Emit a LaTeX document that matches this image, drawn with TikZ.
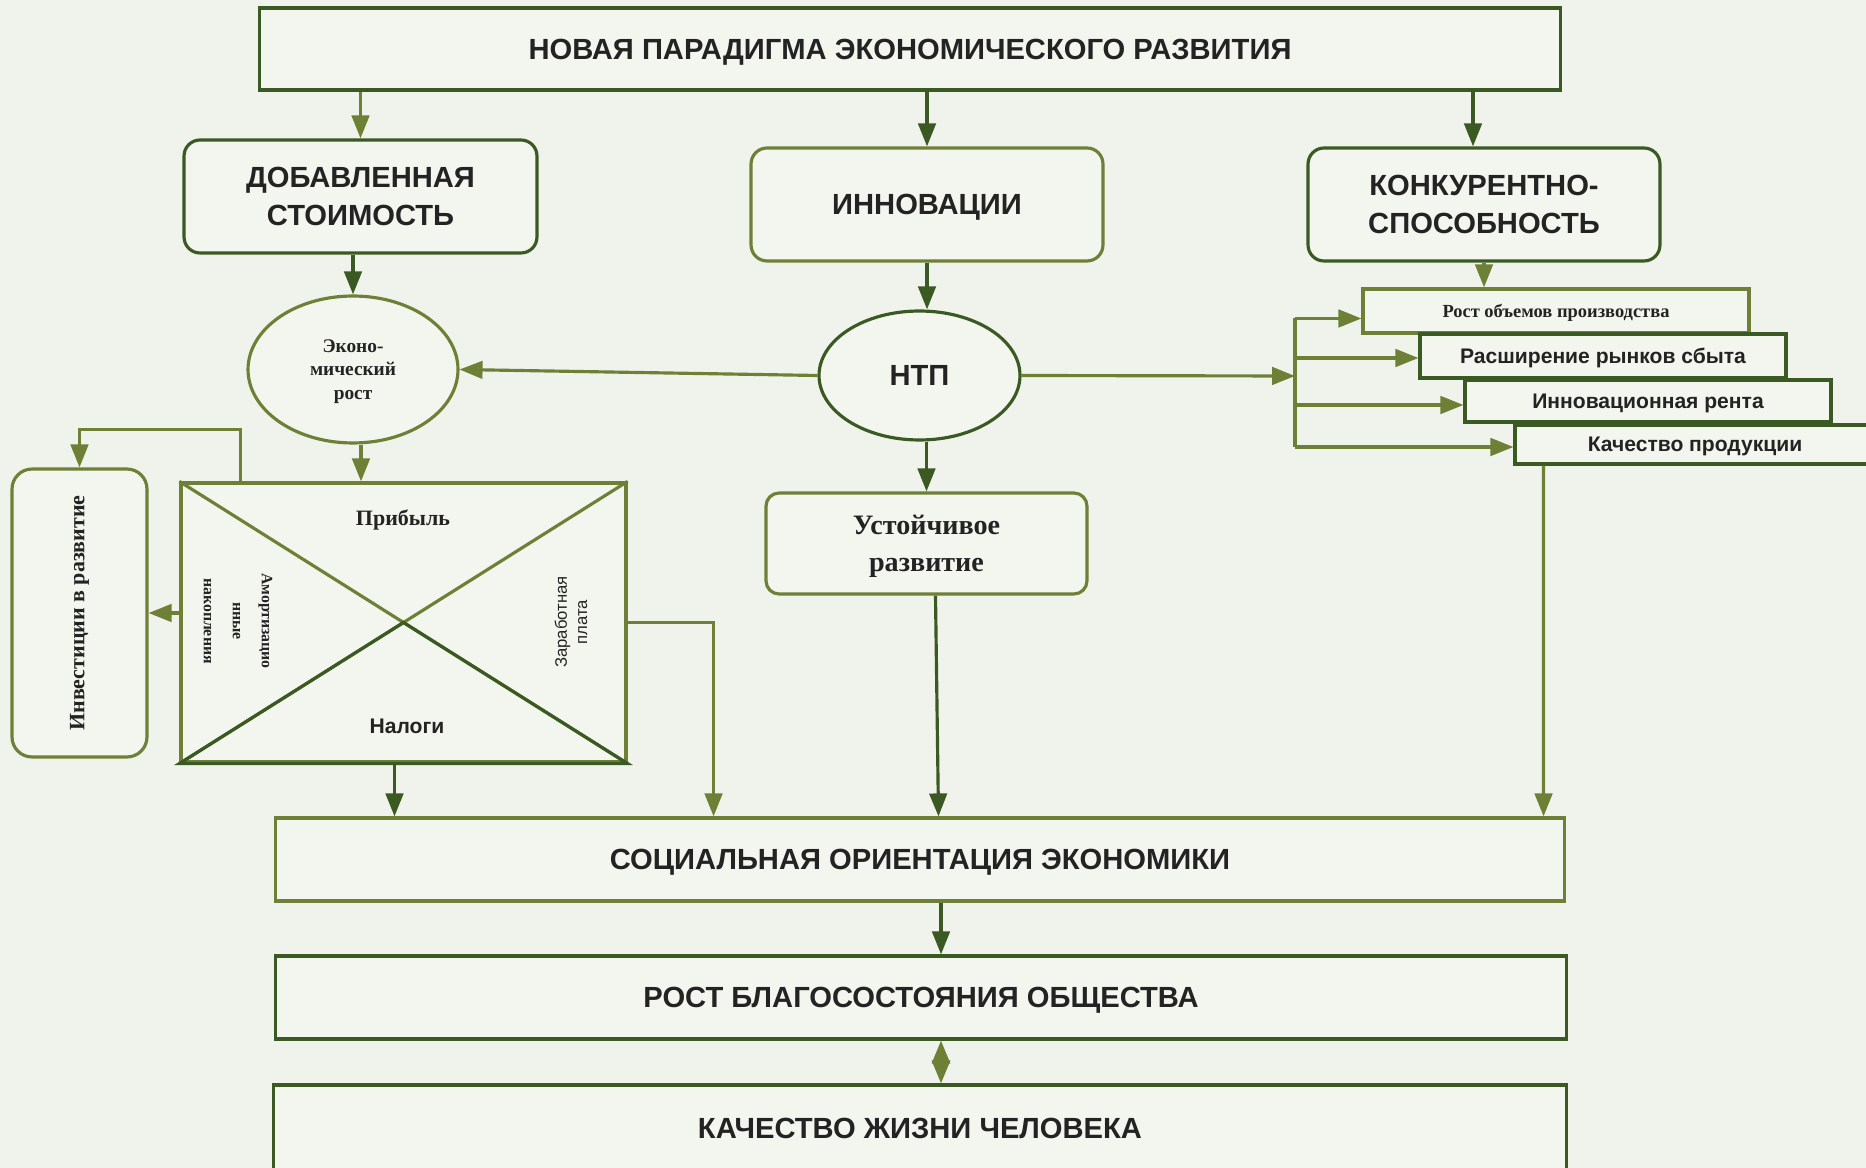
\documentclass[tikz,border=0pt]{standalone}
\usepackage{fontspec}
\setmainfont{Liberation Serif}
\setsansfont{Liberation Sans}
\usetikzlibrary{arrows.meta, positioning, calc, shapes.geometric}
\definecolor{dkgreen}{RGB}{59,90,35}
\definecolor{olgreen}{RGB}{110,128,54}
\definecolor{paper}{RGB}{240,243,235}
\definecolor{boxfill}{RGB}{243,245,239}
\definecolor{ink}{RGB}{35,35,35}

\begin{document}
\begin{tikzpicture}[x=0.02cm,y=-0.02cm,
  B/.style={draw,line width=1.8pt,fill=boxfill,text=ink,
            align=center,inner sep=0pt,text depth=0pt,
            font=\sffamily\bfseries\fontsize{16.6}{21.5}\selectfont},
  R/.style={B,rounded corners=0.32cm},
  E/.style={B,ellipse},
  F/.style={B,font=\sffamily\bfseries\fontsize{12}{14}\selectfont},
  T/.style={text=ink,inner sep=0pt,align=center},
  dk/.style={draw=dkgreen},
  ol/.style={draw=olgreen},
  ar/.style={-{Triangle[length=0.46cm,width=0.35cm]},line width=1.8pt},
  dar/.style={{Triangle[length=0.46cm,width=0.36cm]}-{Triangle[length=0.46cm,width=0.36cm]},
              line width=1.8pt}
]

%% units: 1 = one pixel of the 1866 x 1168 frame, y grows downwards
\useasboundingbox (0,0) rectangle (1866,1168);
\clip (0,0) rectangle (1866,1168);
\fill[paper] (0,0) rectangle (1866,1168);

% head
\node[B,dk,minimum width=26.04cm,minimum height=1.64cm] (NP) at (910,49)
      {НОВАЯ ПАРАДИГМА ЭКОНОМИЧЕСКОГО РАЗВИТИЯ};

% three pillars
\node[R,dk,minimum width=7.06cm,minimum height=2.26cm] (DS) at (360.5,196.5)
      {ДОБАВЛЕННАЯ\\СТОИМОСТЬ};
\node[R,ol,minimum width=7.04cm,minimum height=2.26cm] (INN) at (927,204.5)
      {ИННОВАЦИИ};
\node[R,dk,minimum width=7.04cm,minimum height=2.26cm] (KS) at (1484,204.5)
      {КОНКУРЕНТНО-\\СПОСОБНОСТЬ};

% ellipses
\node[E,ol,minimum width=4.2cm,minimum height=2.94cm,
      font=\bfseries\fontsize{11}{13.6}\selectfont] (ER) at (353,369.5)
      {Эконо-\\мический\\рост};
\node[E,dk,minimum width=4.02cm,minimum height=2.58cm] (NTP) at (919.5,375.5)
      {НТП};

% competitiveness factors (stacked)
\node[F,ol,minimum width=7.72cm,minimum height=0.88cm,
      font=\bfseries\fontsize{10.5}{12}\selectfont] (ROP) at (1556,311)
      {Рост объемов производства};
\node[F,dk,minimum width=7.32cm,minimum height=0.88cm] (RRS) at (1603,356)
      {Расширение рынков сбыта};
\node[F,dk,minimum width=7.32cm,minimum height=0.84cm] (IR) at (1648,401)
      {Инновационная рента};
\node[F,dk,minimum width=7.2cm,minimum height=0.78cm] (KP) at (1695,444.5)
      {Качество продукции};

% distribution of value added
\node[B,ol,minimum width=8.9cm,minimum height=5.58cm] (DB) at (403.5,622.5) {};
\draw[olgreen,line width=1.8pt]
      (DB.north west) -- (DB.south east) (DB.south west) -- (DB.north east);
\draw[dkgreen,line width=1.8pt]
      (DB.south west) -- (DB.center) -- (DB.south east) -- cycle;
\node[T,font=\bfseries\fontsize{12.5}{15}\selectfont] (PRB) at (403,520) {Прибыль};
\node[T,font=\sffamily\bfseries\fontsize{12}{14}\selectfont] (NAL) at (407,726) {Налоги};
\node[T,rotate=90,font=\sffamily\fontsize{9.5}{11.5}\selectfont] (ZP) at (571,622)
      {Заработная\\плата};
\node[T,rotate=-90,font=\bfseries\fontsize{9}{16.5}\selectfont] (AN) at (238,621)
      {Амортизацио\\нные\\накопления};

% investments
\node[B,ol,rounded corners=0.4cm,minimum width=2.7cm,minimum height=5.76cm] (INV)
      at (79.5,613) {};
\node[T,rotate=90,font=\bfseries\fontsize{12.5}{14}\selectfont] (INVt) at (INV.center)
      {Инвестиции в развитие};

% sustainable development
\node[R,ol,rounded corners=0.26cm,minimum width=6.42cm,minimum height=2.02cm,
      font=\bfseries\fontsize{16}{21}\selectfont] (UR) at (926.5,543.5)
      {Устойчивое\\развитие};

% bottom chain
\node[B,ol,minimum width=25.8cm,minimum height=1.66cm] (SOE) at (920,859.5)
      {СОЦИАЛЬНАЯ ОРИЕНТАЦИЯ ЭКОНОМИКИ};
\node[B,dk,minimum width=25.84cm,minimum height=1.66cm] (RBO) at (921,997.5)
      {РОСТ БЛАГОСОСТОЯНИЯ ОБЩЕСТВА};
\node[B,dk,minimum width=25.88cm,minimum height=1.72cm] (KJC) at (920,1128)
      {КАЧЕСТВО ЖИЗНИ ЧЕЛОВЕКА};

% head -> pillars
\draw[ar,olgreen] (NP.south -| DS.north) -- (DS.north);
\draw[ar,dkgreen] (NP.south -| INN.north) -- (INN.north);
\draw[ar,dkgreen] ($(NP.south -| KS.north)+(-11,0)$) -- ($(KS.north)+(-11,0)$);

% pillars -> second level
\draw[ar,dkgreen] (ER.north |- DS.south) -- (ER.north);
\draw[ar,dkgreen] (INN.south) -- (INN.south |- NTP.north);
\draw[ar,olgreen] (KS.south) -- (KS.south |- ROP.north);

% NTP -> growth, factors
\draw[ar,olgreen] (NTP.west) -- (ER.east);
\coordinate (br) at (1295,376);
\draw[ar,olgreen] (NTP.east) -- (br);
\draw[olgreen,line width=1.8pt]
      ([yshift=-0.15cm]ROP.west -| br) -- ([yshift=-0.05cm]KP.west -| br);
\draw[ar,olgreen] ([yshift=-0.15cm]ROP.west -| br) -- ([yshift=-0.15cm]ROP.west);
\draw[ar,olgreen] ([yshift=-0.04cm]RRS.west -| br) -- ([yshift=-0.04cm]RRS.west);
\draw[ar,olgreen] ([yshift=-0.08cm]IR.west -| br) -- ([yshift=-0.08cm]IR.west);
\draw[ar,olgreen] ([yshift=-0.05cm]KP.west -| br) -- ([yshift=-0.05cm]KP.west);
\draw[ar,dkgreen] (UR.north |- NTP.south) -- (UR.north);

% growth -> distribution -> investments
\draw[ar,olgreen] ($(ER.south)+(8,0)$) -- ($(ER.south |- DB.north)+(8,0)$);
\draw[ar,olgreen] (INV.east -| DB.west) -- (INV.east);
\draw[ar,olgreen] ($(DB.north west)+(61,0)$) -- ++(0,-52) -| (INV.north);

% into social orientation
\draw[ar,dkgreen] ($(DB.south)+(-9,0)$) -- ($(DB.south |- SOE.north)+(-9,0)$);
\draw[ar,olgreen] (DB.east) -| ($(SOE.north west)+(440,0)$);
\draw[ar,dkgreen] ([xshift=0.18cm]UR.south) -- ([xshift=0.24cm]UR.south |- SOE.north);
\draw[ar,olgreen] ($(KP.south west)+(30,0)$) -- ($(SOE.north west)+(1270,0)$);

% bottom chain
\draw[ar,dkgreen] ($(SOE.south)+(21,0)$) -- ($(RBO.north)+(20,0)$);
\draw[dar,olgreen] ($(RBO.south)+(20,0)$) -- ($(KJC.north)+(21,0)$);

\end{tikzpicture}
\end{document}
